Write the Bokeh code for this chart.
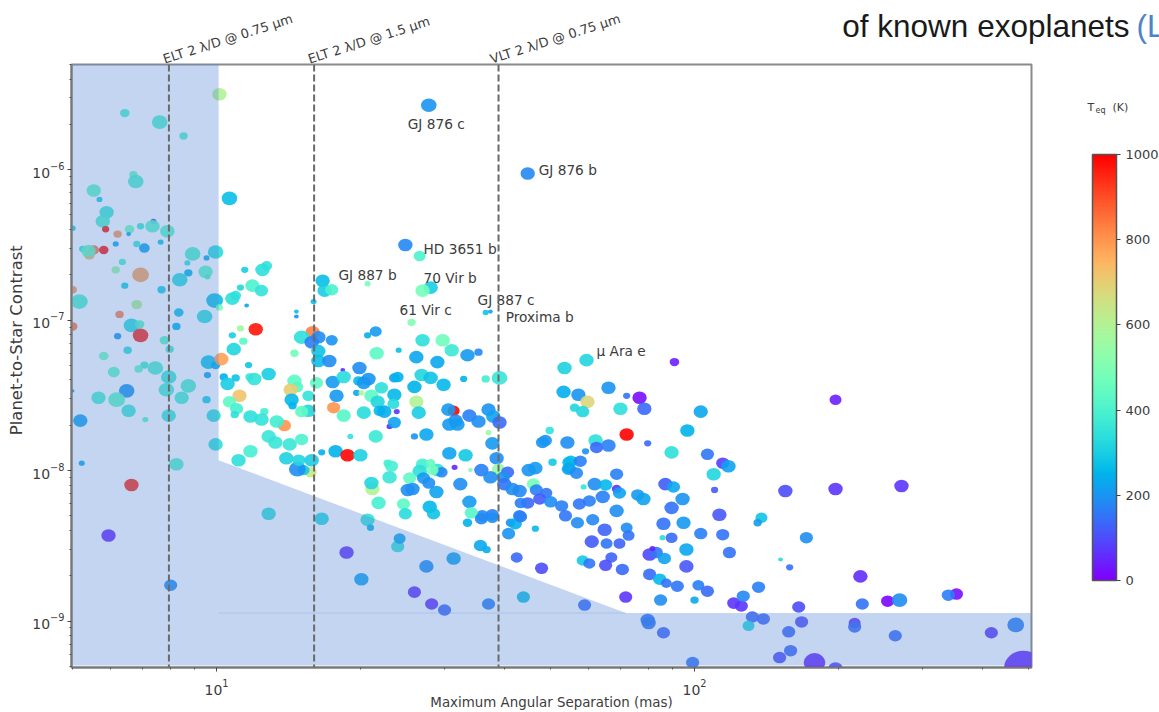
from bokeh.plotting import figure
from bokeh.embed import file_html
from bokeh.resources import INLINE
from bokeh.models import (ColumnDataSource, LinearColorMapper, ColorBar, FixedTicker,
                          Span, Label, LogAxis, CustomJSTickFormatter)
from bokeh.core.properties import value
import numpy as np

# log10 of maximum angular separation (mas)
sep_log = [
1.006,.808,.881,.931,.826,.831,.743,.755,1.027,.770,
.762,.868,.866,.841,.768,.818,.897,.793,.816,.699,
.789,.833,.849,.883,.720,.743,.734,.732,.764,.803,
.789,.841,.808,.885,.699,.713,.833,.797,.921,.950,
.998,.979,.939,.977,.981,.941,.923,.996,1.006,.975,
.822,.839,.841,.916,.699,.793,.891,.902,.814,.764,
.983,.998,.849,.837,.872,.785,.981,.900,.941,.895,
.812,.699,.753,.791,.927,.979,.816,.851,.715,.900,
.994,.998,.718,.916,1.010,.822,.774,.904,1.109,1.220,
1.316,1.322,1.272,1.303,1.379,1.383,1.326,1.324,1.339,1.362,
1.197,1.182,1.169,1.033,1.082,1.050,1.056,1.036,1.067,1.015,
1.040,1.023,1.069,1.079,1.109,1.163,1.169,1.155,1.048,1.027,
1.042,1.038,1.157,1.159,1.192,1.192,1.178,1.100,1.071,1.094,
1.142,1.126,1.109,1.123,1.153,1.178,1.071,1.046,1.146,1.172,
1.199,1.201,1.178,1.213,1.199,1.241,1.163,1.213,1.213,1.236,
1.209,1.264,1.299,1.243,1.266,1.251,1.245,1.266,1.293,1.303,
1.297,1.308,1.318,1.316,1.333,1.335,1.308,1.324,1.337,1.345,
1.372,1.372,1.370,1.341,1.351,1.377,1.362,1.372,1.280,1.333,
1.220,1.249,1.274,1.301,1.358,1.366,
1.431,1.473,1.492,1.381,1.418,1.525,1.548,1.462,
1.379,1.429,1.448,1.414,1.475,1.517,1.563,1.592,1.418,1.423,
1.496,1.485,1.529,1.569,1.579,1.592,1.548,1.500,1.487,1.504,
1.569,1.414,1.439,1.577,1.487,1.521,1.586,1.498,1.531,1.590,
1.554,1.573,1.609,1.600,1.602,1.619,1.634,1.663,1.653,1.667,
1.703,1.736,1.736,1.669,1.690,1.676,1.651,1.636,1.699,1.722,
1.730,1.634,1.577,1.556,1.529,1.533,1.460,1.510,1.431,1.425,
1.462,1.471,1.452,1.448,1.404,1.433,1.444,1.400,1.410,1.391,
1.446,1.395,1.454,1.525,1.554,1.577,1.439,1.496,1.414,1.450,
1.477,1.569,1.642,1.770,1.552,1.565,1.611,1.615,1.625,1.636,
1.628,1.667,1.680,1.755,1.787,1.812,1.785,1.816,1.843,1.858,
1.862,1.766,1.780,1.826,1.814,1.849,1.856,1.906,1.927,1.941,
1.964,1.929,2.000,2.008,2.027,1.902,1.904,1.935,1.996,1.774,
1.728,1.958,1.726,1.757,1.820,1.858,1.885,1.776,1.749,1.766,
1.845,1.895,2.013,1.697,1.985,1.858,1.688,1.682,1.734,1.793,
1.795,1.820,1.902,1.952,1.772,1.741,1.761,1.738,1.753,1.837,
2.027,2.059,2.071,2.040,1.791,1.814,1.768,1.837,1.843,1.939,
1.956,2.042,1.881,1.893,1.808,1.975,1.780,1.759,1.952,1.837,
2.052,1.935,1.977,2.013,2.059,1.933,1.952,2.073,1.983,1.906,
1.920,1.937,1.912,1.983,2.082,2.098,2.102,2.190,2.295,2.433,
2.295,2.140,2.132,2.234,2.180,2.199,2.347,2.134,2.218,2.404,
2.429,2.351,2.548,2.531,2.121,2.144,2.113,2.224,2.197,2.335,
2.335,2.420,2.621,2.672,2.201,2.178,2.251,2.295,2.688,
1.444,1.651,1.395,1.425,1.448,1.431,1.316,1.408,1.563,1.573,
1.222,1.226,1.241,1.203,1.167,1.167,1.059,1.105,1.096,1.050,
1.075,1.094,1.040,1.033,1.063]

# log10 of planet-to-star contrast
contrast_log = [
-5.499,-5.624,-5.684,-5.776,-6.033,-6.079,-6.138,-6.198,-6.191,-6.283,
-6.343,-6.343,-6.376,-6.376,-6.396,-6.396,-6.409,-6.428,-6.428,-6.389,
-6.494,-6.494,-6.521,-6.481,-6.527,-6.534,-6.567,-6.541,-6.534,-6.613,
-6.666,-6.699,-6.771,-6.798,-6.798,-6.877,-6.897,-6.962,-6.949,-6.560,
-6.547,-6.587,-6.620,-6.679,-6.712,-6.686,-6.732,-6.870,-6.916,-6.976,
-7.035,-7.028,-7.101,-7.042,-7.042,-7.107,-7.134,-7.193,-7.200,-7.239,
-7.279,-7.299,-7.299,-7.325,-7.318,-7.345,-7.365,-7.378,-7.437,-7.463,
-7.470,-7.470,-7.516,-7.529,-7.516,-7.529,-7.602,-7.661,-7.668,-7.635,
-7.635,-7.826,-7.951,-7.958,-7.259,-8.096,-8.432,-8.762,-8.287,-8.320,
-8.327,-8.380,-8.545,-8.722,-8.505,-8.452,-8.123,-8.083,-8.215,-8.044,
-8.011,-7.997,-7.991,-7.101,-7.061,-7.055,-7.140,-7.193,-7.299,-7.378,
-7.384,-7.424,-7.378,-7.391,-7.358,-7.404,-7.444,-7.463,-7.503,-7.543,
-7.589,-7.628,-7.529,-7.569,-7.503,-7.602,-7.608,-7.608,-7.641,-7.661,
-7.701,-7.674,-7.773,-7.813,-7.826,-7.793,-7.872,-7.931,-7.918,-7.931,
-7.931,-7.081,-7.114,-7.114,-7.147,-7.134,-7.220,-7.206,-7.272,-7.272,
-7.417,-7.332,-7.318,-7.411,-7.378,-7.503,-7.582,-7.635,-7.483,-7.483,
-7.404,-7.417,-7.391,-7.101,-7.075,-7.220,-7.615,-7.503,-7.543,-7.450,
-7.384,-7.496,-7.556,-7.602,-7.608,-7.608,-7.707,-7.681,-7.773,-7.773,
-7.879,-7.872,-7.898,-7.898,-7.951,-7.971,
-7.134,-7.134,-7.200,-7.200,-7.246,-7.233,-7.213,-7.279,
-7.378,-7.365,-7.384,-7.444,-7.430,-7.391,-7.391,-7.384,-7.543,-7.615,
-7.602,-7.595,-7.635,-7.595,-7.641,-7.681,-7.674,-7.668,-7.694,-7.694,
-7.747,-7.773,-7.760,-7.819,-7.885,-7.898,-7.918,-7.978,-7.997,-7.991,
-7.997,-8.044,-8.011,-8.044,-8.090,-8.123,-8.136,-8.090,-7.997,-7.984,
-7.945,-7.945,-7.991,-8.129,-8.149,-8.189,-8.215,-8.215,-8.208,-8.235,
-8.301,-8.301,-8.294,-8.301,-8.208,-8.281,-8.142,-8.090,-7.958,-8.004,
-7.997,-8.011,-7.997,-7.951,-8.050,-8.050,-8.083,-8.129,-8.123,-8.222,
-8.241,-8.287,-8.287,-8.347,-8.320,-8.314,-8.637,-8.584,-8.808,-8.887,
-8.927,-8.887,-8.841,-8.894,-8.498,-8.525,-8.419,-8.347,-8.353,-8.307,
-8.577,-8.386,-8.650,-8.347,-8.327,-8.393,-8.472,-8.485,-8.485,-8.380,
-8.432,-8.597,-8.617,-8.577,-8.630,-8.657,-8.841,-8.690,-8.722,-8.749,
-8.769,-8.861,-8.861,-8.762,-8.802,-8.993,-9.013,-9.078,-9.276,-7.266,
-7.318,-7.279,-7.477,-7.496,-7.450,-7.503,-7.516,-7.543,-7.582,-7.608,
-7.589,-7.589,-7.608,-7.734,-7.734,-7.760,-7.800,-7.813,-7.813,-7.800,
-7.846,-7.833,-7.819,-7.879,-7.872,-7.938,-7.938,-7.984,-8.017,-8.024,
-7.892,-7.951,-7.971,-8.024,-8.090,-8.096,-8.109,-8.123,-8.149,-8.090,
-8.109,-8.129,-8.162,-8.189,-8.175,-8.189,-8.202,-8.222,-8.248,-8.268,
-8.294,-8.353,-8.347,-8.419,-8.426,-8.446,-8.446,-8.545,-8.525,-8.558,
-8.545,-8.584,-8.518,-8.637,-8.881,-8.900,-8.835,-8.136,-8.123,-8.103,
-7.529,-8.314,-8.347,-8.446,-8.591,-8.643,-8.703,-8.775,-8.907,-8.868,
-8.861,-8.887,-8.821,-8.828,-8.973,-8.986,-9.032,-9.006,-9.072,-9.013,
-9.039,-9.098,-9.078,-9.026,-9.197,-9.243,-9.276,-9.316,-9.309,
-5.572,-6.026,-6.501,-6.574,-6.784,-6.804,-6.758,-7.015,-6.949,-6.943,
-6.738,-6.804,-6.798,-6.877,-6.943,-6.976,-6.666,-6.639,-6.666,-6.784,
-6.771,-6.804,-6.837,-6.857,-6.903]

# equilibrium temperature (K)
teq_k = [
600,400,400,400,450,400,430,300,270,370,
400,100,420,370,980,470,420,800,230,300,
230,370,220,280,350,850,750,450,980,400,
550,780,300,300,800,400,600,830,270,400,
330,230,350,430,400,250,330,270,480,340,
330,420,960,250,850,200,420,380,340,470,
280,240,380,440,400,440,220,370,400,390,
200,200,390,430,390,300,370,420,220,370,
340,340,230,410,780,950,50,180,340,320,
350,250,60,220,350,230,600,320,390,360,
640,290,190,300,970,560,430,320,280,240,
280,300,370,350,300,430,420,700,720,430,
390,340,260,250,350,320,440,380,340,350,
800,380,360,360,360,400,390,340,310,320,
300,830,340,190,170,200,470,280,270,190,
430,50,190,210,330,210,800,420,230,580,
260,210,200,240,210,430,330,430,320,340,
220,260,330,260,240,70,50,220,350,370,
240,250,990,310,380,390,
340,470,370,270,230,210,180,230,
250,320,280,250,260,250,380,360,600,300,
1000,210,170,200,220,140,190,190,210,210,
560,200,230,210,220,290,190,50,500,550,
170,190,140,200,150,190,180,480,200,210,
290,260,230,170,160,120,140,170,190,170,
160,170,170,180,210,420,220,190,380,340,
340,180,480,450,440,210,190,190,190,430,
260,330,280,250,180,190,190,220,60,60,
130,170,270,140,230,240,200,190,240,170,
140,260,100,190,180,130,120,160,130,190,
150,290,160,130,100,140,70,140,260,150,
160,190,230,170,140,160,160,130,150,320,
310,40,240,200,200,150,20,680,320,320,
340,140,230,350,250,1000,200,200,190,340,
140,170,140,340,200,260,170,230,180,170,
160,80,220,320,190,260,350,70,220,120,
230,120,210,220,170,200,170,160,150,190,
110,150,210,170,150,330,140,150,230,90,
160,220,40,110,70,70,180,100,70,70,
40,280,210,190,330,150,60,170,100,10,
190,150,20,170,130,130,320,100,130,60,
140,140,70,170,130,100,50,90,50,
200,180,180,400,300,480,480,500,280,220,
270,300,400,270,270,200,300,350,340,320,
400,350,350,340,220]

# planet size as plotted
planet_size = [
12,8,13,7,7,13,12,5,13,12,
12,5,12,6,6,8,12,7,4,5,
5,6,9,5,6,9,9,12,8,6,
7,14,6,7,7,14,9,7,8,13,
13,5,5,12,5,7,13,14,6,13,
13,8,13,7,8,6,8,7,7,8,
13,8,7,7,13,10,6,13,13,13,
13,3,12,14,12,7,12,5,12,12,
12,12,5,12,12,12,12,11,12,12,
12,6,12,12,11,10,12,12,12,12,
10,10,14,6,12,6,7,12,6,7,
7,12,7,12,12,12,10,12,12,11,
11,7,12,7,10,12,11,7,12,12,
11,12,12,12,12,11,12,12,12,11,
12,12,13,12,12,10,7,12,12,12,
11,4,12,12,12,12,11,12,6,5,
9,12,12,6,10,12,12,12,12,11,
9,12,10,10,12,5,5,11,5,12,
6,12,12,12,7,11,
12,12,12,5,12,12,7,12,
10,12,12,12,12,6,7,13,12,12,
10,12,12,12,12,12,12,12,12,12,
5,6,12,12,12,12,12,5,4,11,
12,12,11,11,12,12,12,11,12,12,
7,10,11,11,10,11,11,10,11,11,
11,11,11,11,12,11,12,12,11,12,
12,10,10,8,11,11,11,12,12,11,
12,11,11,8,11,10,12,12,11,11,
11,11,11,11,11,7,11,8,11,11,
10,6,11,11,11,12,12,10,10,10,
10,10,10,10,11,11,11,11,11,9,
11,11,7,10,11,12,12,11,11,12,
12,8,12,12,12,6,12,12,8,11,
12,12,12,7,12,12,11,11,12,12,
11,12,6,12,6,11,11,11,11,11,
11,11,12,12,12,11,5,8,11,12,
11,6,11,12,12,12,11,11,12,12,
12,12,12,11,11,5,10,11,12,12,
11,11,5,12,11,11,11,12,12,12,
10,10,7,11,4,6,12,11,11,11,
13,11,11,11,11,11,10,11,11,10,
11,11,11,14,11,11,18,12,32,
13,12,12,10,12,12,5,7,5,4,
12,12,11,5,4,4,6,9,12,6,
12,11,9,12,4]

# annotated planets
label_names = ["GJ 876 c", "GJ 876 b", "HD 3651 b", "GJ 887 b", "70 Vir b",
               "GJ 887 c", "61 Vir c", "Proxima b", "\u03bc Ara e"]
label_sep_log = [1.400, 1.674, 1.433, 1.255, 1.433, 1.546, 1.383, 1.605, 1.795]
label_contrast_log = [-5.697, -6.000, -6.527, -6.699, -6.719, -6.864, -6.936, -6.976, -7.206]

# inner working angles
iwa_names = ["ELT 2 \u03bb/D @ 0.75 \u00b5m", "ELT 2 \u03bb/D @ 1.5 \u00b5m", "VLT 2 \u03bb/D @ 0.75 \u00b5m"]
iwa_mas = [7.95, 16.0, 38.9]
iwa_label_mas = [7.74, 15.56, 37.4]

# blocked region boundary
region_sep = [4.5, 10.1, 10.1, 71.8, 600, 600, 4.5]
region_contrast = [6e-6, 6e-6, 1.17e-8, 1.13e-9, 1.13e-9, 5.06e-10, 5.06e-10]
seam_sep = [10.1, 71.8]
seam_contrast = [1.13e-9, 1.13e-9]

teq_ticks = [0, 200, 400, 600, 800, 1000]
x_major = [10, 100]
x_minor = [5, 6, 7, 8, 9, 20, 30, 40, 50, 60, 70, 80, 90, 200, 300, 400, 500]
y_major = [1e-9, 1e-8, 1e-7, 1e-6]
y_minor = [m * 10.0 ** e for e in (-10, -9, -8, -7, -6) for m in range(2, 10)]

y_title = "Planet-to-Star Contrast"
y_title_at = [7.35e-8]
caption = "of known exoplanets"
caption_at = [407]

GRAY = "#3c3c3c"
FONT = value("DejaVu Sans")

# matplotlib "rainbow" colormap
t = np.linspace(0, 1, 256)
r = np.clip(np.abs(2 * t - 0.5), 0, 1)
g = np.sin(np.pi * t)
b = np.cos(np.pi * t / 2)
palette = ["#%02x%02x%02x" % (int(a * 255), int(c * 255), int(d * 255)) for a, c, d in zip(r, g, b)]
mapper = LinearColorMapper(palette=palette, low=0, high=1000)

src = ColumnDataSource(dict(
    x=10 ** np.array(sep_log), y=10 ** np.array(contrast_log), t=teq_k,
    w=np.array(planet_size) * 1.2, h=np.array(planet_size) * 1.05))

p = figure(width=1159, height=712, x_axis_type="log", y_axis_type="log",
           x_range=(4.972, 507), y_range=(4.91e-10, 5e-6),
           output_backend="svg", toolbar_location=None,
           min_border_left=71, min_border_right=128, min_border_top=64, min_border_bottom=40,
           background_fill_color="white", border_fill_color="white",
           x_axis_label="Maximum Angular Separation (mas)")
p.grid.visible = False
p.outline_line_color = "#8a8a8a"
p.outline_line_width = 2

for ax, tk in ((p.xaxis[0], FixedTicker(ticks=x_major, minor_ticks=x_minor)),
               (p.yaxis[0], FixedTicker(ticks=y_major, minor_ticks=y_minor))):
    ax.ticker = tk
    ax.axis_line_color = "#777777"
    ax.axis_line_width = 2
    ax.major_tick_line_color = "#444444"
    ax.minor_tick_line_color = "#555555"
    ax.major_tick_out = 4
    ax.major_tick_in = 0
    ax.minor_tick_out = 2
    ax.minor_tick_in = 0
    ax.major_label_text_font = "DejaVu Sans"
    ax.major_label_text_font_size = "14px"
    ax.major_label_text_color = GRAY
    ax.axis_label_text_font = "DejaVu Sans"
    ax.axis_label_text_font_style = "normal"
    ax.axis_label_text_color = GRAY
p.xaxis[0].axis_label_text_font_size = "13.4px"
p.xaxis[0].axis_label_standoff = -3
p.xaxis[0].major_label_standoff = 7
p.yaxis[0].major_label_standoff = 3


def text_axis(side, ticks, names, font, size, color, orientation, standoff):
    """An axis with no line or ticks that only carries text outside the frame."""
    a = LogAxis(ticker=FixedTicker(ticks=ticks, minor_ticks=[]),
                formatter=CustomJSTickFormatter(args=dict(names=names), code="return names[index]"),
                axis_line_color=None, major_tick_line_color=None, minor_tick_line_color=None,
                major_tick_out=0, major_tick_in=0, minor_tick_out=0, minor_tick_in=0,
                major_label_text_font=font, major_label_text_font_size=size,
                major_label_text_color=color, major_label_orientation=orientation,
                major_label_standoff=standoff)
    p.add_layout(a, side)


text_axis("left", y_title_at, [y_title], "DejaVu Sans", "16.5px", GRAY, "vertical", 3)
text_axis("above", iwa_label_mas, iwa_names, "DejaVu Sans", "13px", GRAY, 0.31, 5)
text_axis("above", caption_at, [caption], "Liberation Sans", "31.5px", "#1a1a1a", "horizontal", -43)

p.ellipse("x", "y", width="w", height="h", width_units="screen", height_units="screen", source=src,
          fill_color={"field": "t", "transform": mapper}, fill_alpha=0.9, line_color=None)

p.patch(region_sep, region_contrast, fill_color="#5487d4", fill_alpha=0.35, line_color=None)
p.line(seam_sep, seam_contrast, line_color="#5487d4", line_alpha=0.2, line_width=1)

for m in iwa_mas:
    p.add_layout(Span(location=m, dimension="height", line_color="#6a6a6a", line_width=2, line_dash="7 3"))

lab_src = ColumnDataSource(dict(x=10 ** np.array(label_sep_log), y=10 ** np.array(label_contrast_log), t=label_names))
p.text("x", "y", text="t", source=lab_src, text_font=FONT, text_font_size="13.7px",
       text_color=GRAY, text_baseline="middle", text_align="left")


def side_label(text, px, py, size, color=GRAY, font="DejaVu Sans", baseline="middle"):
    p.add_layout(Label(x=px, y=py, x_units="canvas", y_units="canvas", text=text,
                       text_font=font, text_font_size=size, text_color=color,
                       text_align="left", text_baseline=baseline), "right")


# blue reference mark after the caption
side_label("(L", 1136, 25, "31.5px", color="#4f83c6", font="Liberation Sans", baseline="alphabetic")

# colour bar title
side_label("T", 1087, 107, "11px")
side_label("eq", 1095, 110, "8px")
side_label("(K)", 1112, 107, "11px")

cb = ColorBar(color_mapper=mapper, ticker=FixedTicker(ticks=teq_ticks), width=24, height=426,
              location=(1021, 87), padding=0, margin=0,
              bar_line_color="#555555", bar_line_width=1.5,
              major_tick_line_color="#444444", major_tick_in=0, major_tick_out=4,
              minor_tick_line_color=None,
              major_label_text_font="DejaVu Sans", major_label_text_font_size="13px",
              major_label_text_color=GRAY, background_fill_alpha=0, border_line_color=None)
p.add_layout(cb)

open("out.html", "w").write(file_html(p, INLINE))
